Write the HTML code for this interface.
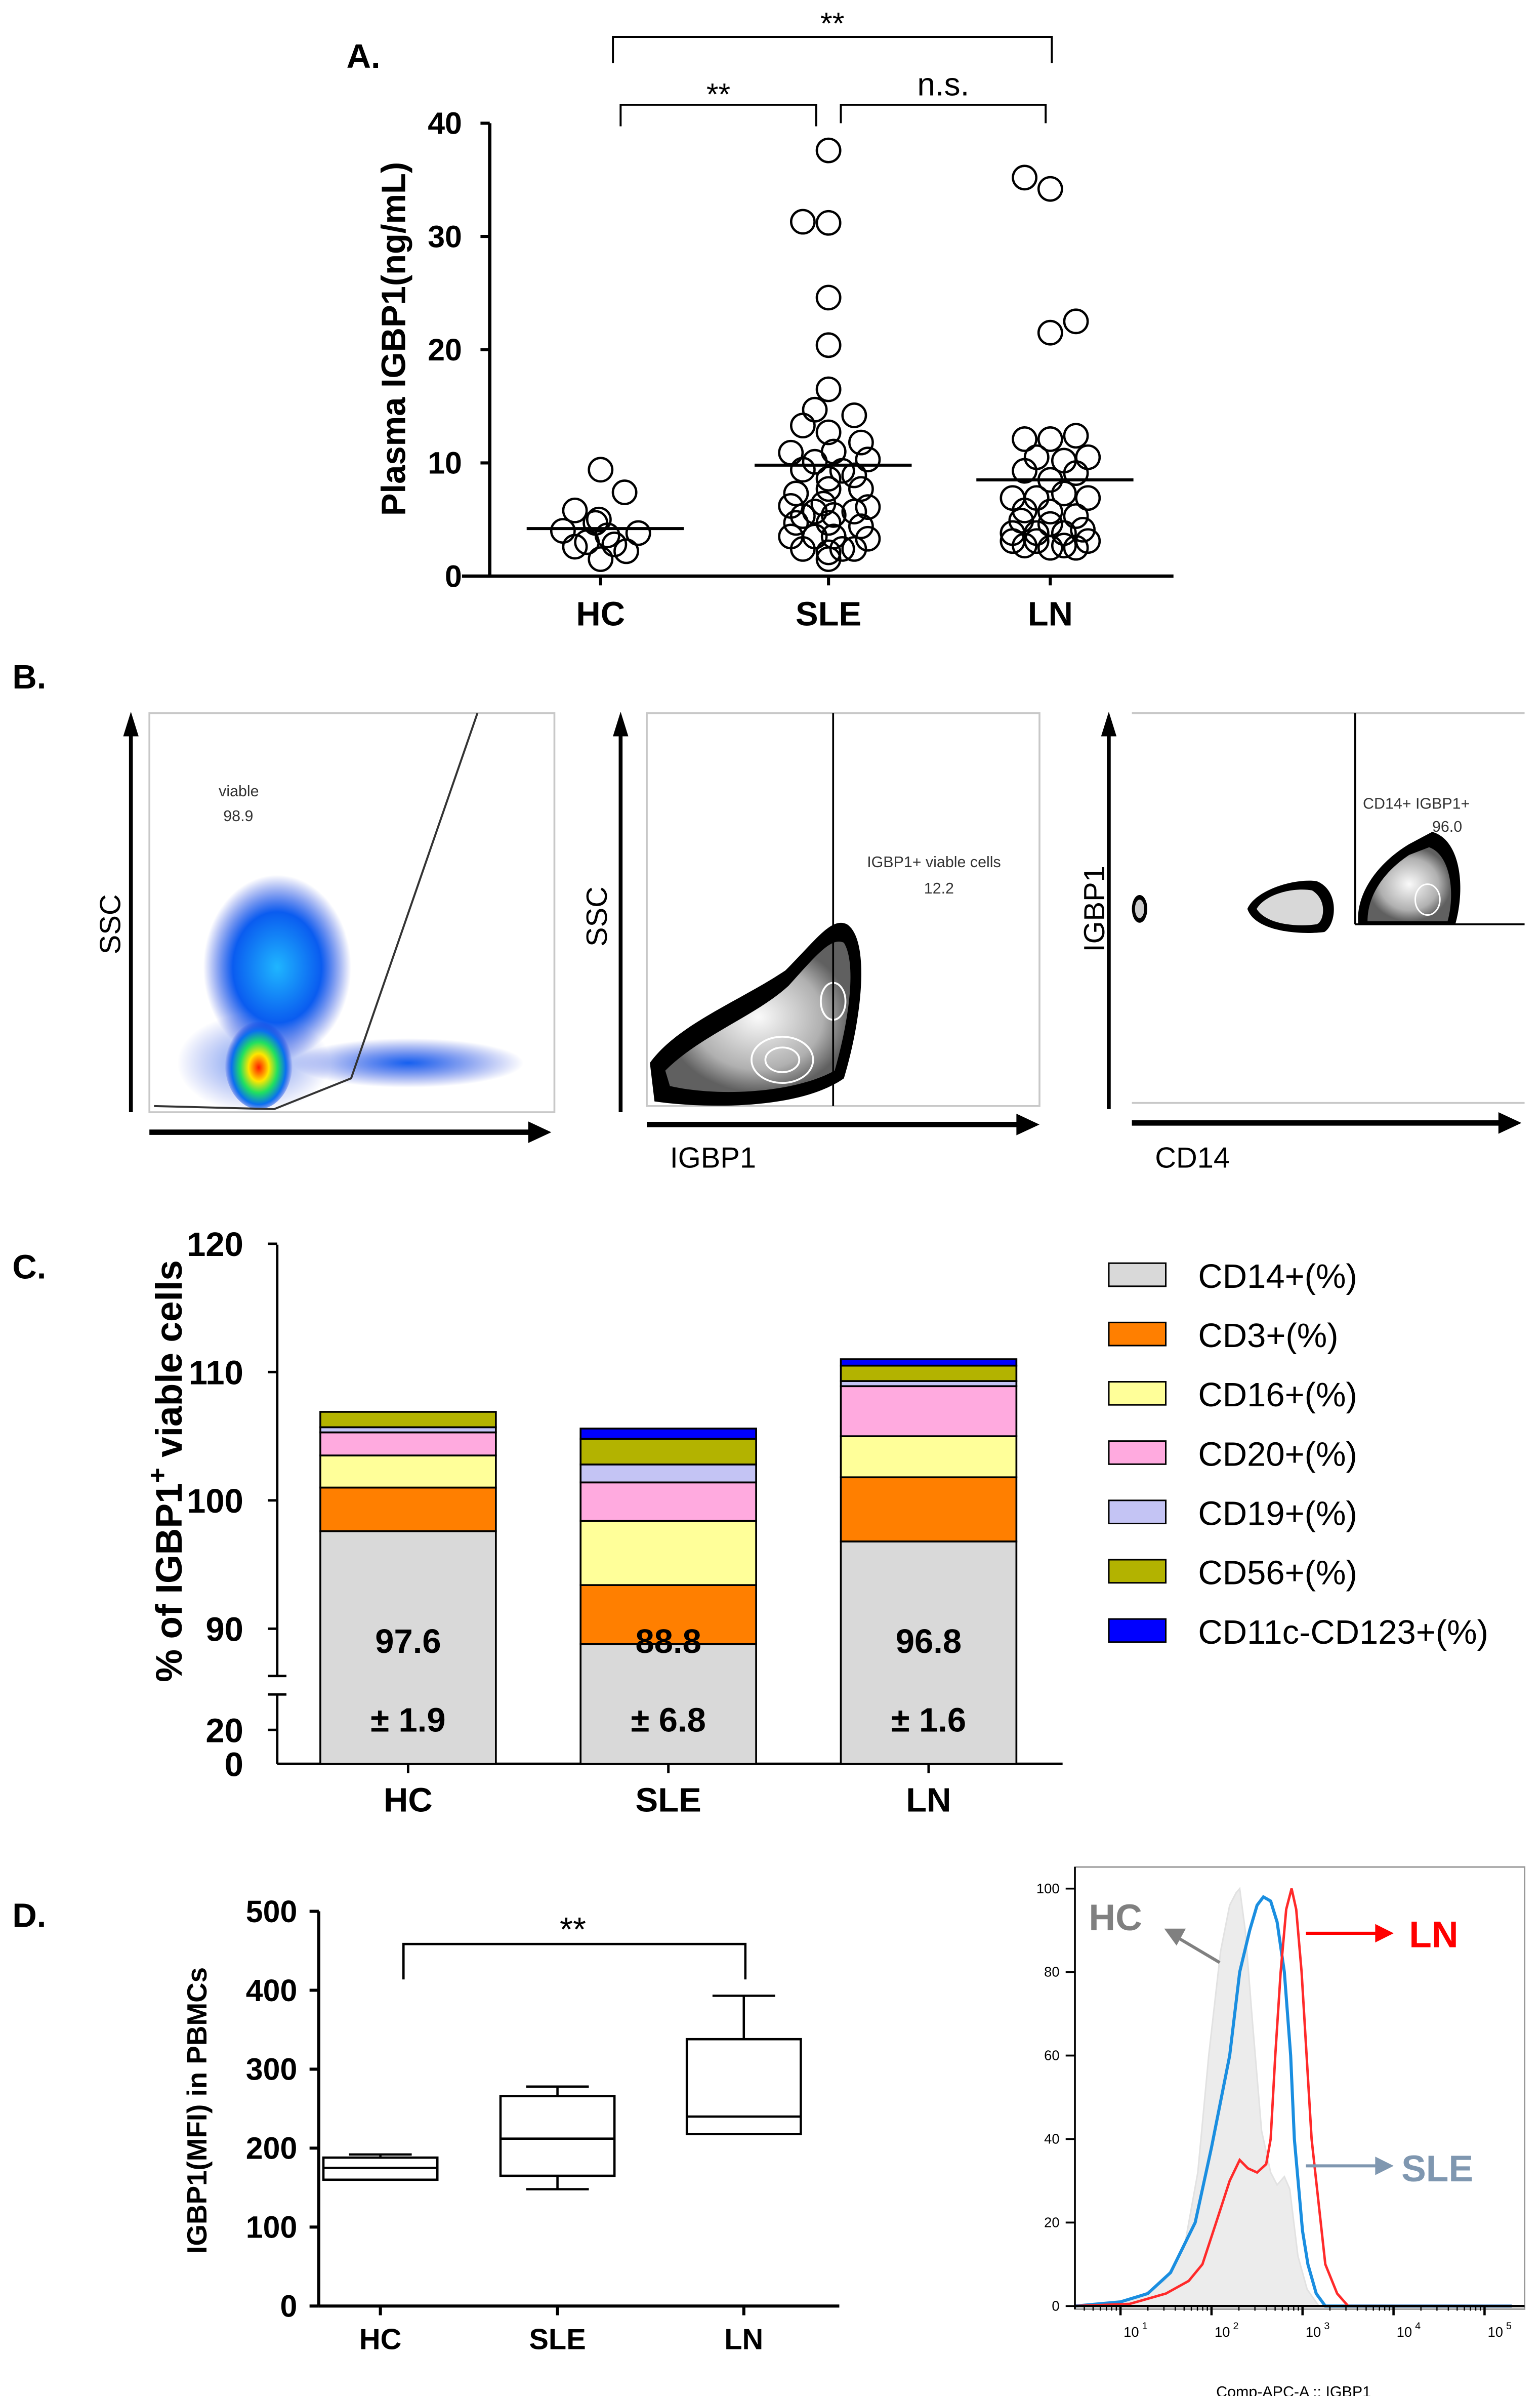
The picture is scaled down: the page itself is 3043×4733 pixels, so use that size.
<!DOCTYPE html>
<html><head><meta charset="utf-8">
<style>
html,body{margin:0;padding:0;background:#fff;}
svg{display:block;font-family:"Liberation Sans",Arial,sans-serif;}
</style></head>
<body>
<svg id="fig" xmlns="http://www.w3.org/2000/svg" width="3043" height="4733" viewBox="0 0 1000 1555.4">
<defs>
<radialGradient id="gBlue" cx="50%" cy="50%" r="50%">
<stop offset="0" stop-color="#1fb6ff"/><stop offset="0.6" stop-color="#0a5cf0"/><stop offset="1" stop-color="#0a2bd8" stop-opacity="0"/>
</radialGradient>
<radialGradient id="gHot" cx="50%" cy="55%" r="50%">
<stop offset="0" stop-color="#ff1a00"/><stop offset="0.3" stop-color="#ffe600"/><stop offset="0.55" stop-color="#20e060"/><stop offset="0.8" stop-color="#0a70f0"/><stop offset="1" stop-color="#0a2bd8" stop-opacity="0"/>
</radialGradient>
<radialGradient id="gSide" cx="50%" cy="50%" r="50%">
<stop offset="0" stop-color="#1560f0"/><stop offset="1" stop-color="#0a2bd8" stop-opacity="0"/>
</radialGradient>
<radialGradient id="gGray" cx="50%" cy="50%" r="50%">
<stop offset="0" stop-color="#fafafa"/><stop offset="0.7" stop-color="#b0b0b0"/><stop offset="1" stop-color="#606060"/>
</radialGradient>
</defs>

<!-- ================= PANEL A ================= -->
<g id="panelA">
<text x="225" y="44" font-size="22" font-weight="bold">A.</text>
<text transform="translate(263,220) rotate(-90)" text-anchor="middle" font-size="22" font-weight="bold">Plasma IGBP1(ng/mL)</text>
<g id="aAxes"></g>
<g id="aPts"></g>
</g>

<!-- ================= PANEL B ================= -->
<g id="panelB">
<text x="8" y="447" font-size="22" font-weight="bold">B.</text>
<g>
<rect x="97" y="463" width="263" height="259" fill="none" stroke="#c8c8c8" stroke-width="1.2"/>
<ellipse cx="165" cy="690" rx="50" ry="32" fill="url(#gSide)" opacity="0.6"/>
<ellipse cx="180" cy="628" rx="48" ry="60" fill="url(#gBlue)"/>
<ellipse cx="265" cy="690" rx="75" ry="16" fill="url(#gSide)"/>
<ellipse cx="168" cy="690" rx="22" ry="30" fill="url(#gHot)"/>
<path d="M100,718 L178,720 L228,700 L310,463" fill="none" stroke="#333" stroke-width="1.3"/>
<text x="142" y="517" font-size="10" fill="#333">viable</text>
<text x="145" y="533" font-size="10" fill="#333">98.9</text>
<line x1="85" y1="722" x2="85" y2="475" stroke="#000" stroke-width="2.5"/>
<polygon points="80,478 85,462 90,478" fill="#000"/>
<line x1="97" y1="735" x2="345" y2="735" stroke="#000" stroke-width="3.5"/>
<polygon points="343,728 358,735 343,742" fill="#000"/>
<text transform="translate(78,600) rotate(-90)" text-anchor="middle" font-size="19">SSC</text>
</g>
<g>
<rect x="420" y="463" width="255" height="255" fill="none" stroke="#c8c8c8" stroke-width="1.2"/>
<path d="M422,690 C440,665 480,650 510,630 C530,610 540,595 550,600 C565,610 560,660 548,700 C520,720 460,720 425,715 Z" fill="#000"/>
<path d="M432,695 C455,672 490,660 512,640 C530,620 540,608 548,612 C556,625 552,660 542,695 C515,710 465,712 435,705 Z" fill="url(#gGray)"/>
<ellipse cx="508" cy="688" rx="20" ry="15" fill="none" stroke="#fff" stroke-width="1.2"/>
<ellipse cx="508" cy="688" rx="11" ry="8" fill="none" stroke="#fff" stroke-width="1.2"/>
<ellipse cx="541" cy="650" rx="8" ry="12" fill="none" stroke="#fff" stroke-width="1.2"/>
<line x1="541" y1="463" x2="541" y2="718" stroke="#000" stroke-width="1.2"/>
<text x="563" y="563" font-size="10" fill="#333">IGBP1+ viable cells</text>
<text x="600" y="580" font-size="10" fill="#333">12.2</text>
<line x1="403" y1="722" x2="403" y2="475" stroke="#000" stroke-width="2.5"/>
<polygon points="398,478 403,462 408,478" fill="#000"/>
<line x1="420" y1="730" x2="662" y2="730" stroke="#000" stroke-width="3.5"/>
<polygon points="660,723 675,730 660,737" fill="#000"/>
<text transform="translate(394,595) rotate(-90)" text-anchor="middle" font-size="19">SSC</text>
<text x="435" y="758" font-size="19">IGBP1</text>
</g>
<g>
<line x1="735" y1="463" x2="990" y2="463" stroke="#c8c8c8" stroke-width="1.2"/>
<line x1="735" y1="716" x2="990" y2="716" stroke="#c8c8c8" stroke-width="1.2"/>
<ellipse cx="740" cy="590" rx="5" ry="9" fill="#000"/>
<ellipse cx="740" cy="590" rx="3" ry="6" fill="#ccc"/>
<path d="M810,590 C815,578 840,570 855,572 C870,578 868,600 860,605 C845,607 815,605 810,590 Z" fill="#000"/>
<path d="M816,590 C822,580 840,576 852,578 C862,584 860,598 855,600 C842,602 822,600 816,590 Z" fill="#d8d8d8"/>
<path d="M882,600 C880,580 895,560 915,548 L930,540 C948,545 952,575 945,600 Z" fill="#000"/>
<path d="M888,598 C888,580 900,565 915,555 L928,550 C942,555 945,580 940,598 Z" fill="url(#gGray)"/>
<ellipse cx="927" cy="584" rx="8" ry="10" fill="none" stroke="#fff" stroke-width="1"/>
<line x1="880" y1="463" x2="880" y2="600" stroke="#000" stroke-width="1.2"/>
<line x1="880" y1="600" x2="990" y2="600" stroke="#000" stroke-width="1.2"/>
<text x="885" y="525" font-size="10" fill="#333">CD14+ IGBP1+</text>
<text x="930" y="540" font-size="10" fill="#333">96.0</text>
<line x1="720" y1="720" x2="720" y2="475" stroke="#000" stroke-width="2.5"/>
<polygon points="715,478 720,462 725,478" fill="#000"/>
<line x1="735" y1="729" x2="975" y2="729" stroke="#000" stroke-width="3.5"/>
<polygon points="973,722 988,729 973,736" fill="#000"/>
<text transform="translate(717,590) rotate(-90)" text-anchor="middle" font-size="19">IGBP1</text>
<text x="750" y="758" font-size="19">CD14</text>
</g>
</g>

<!-- ================= PANEL C ================= -->
<g id="panelC">
<text x="8" y="830" font-size="22" font-weight="bold">C.</text>
<text transform="translate(118,955) rotate(-90)" text-anchor="middle" font-size="24" font-weight="bold">% of IGBP1<tspan dy="-10" font-size="17">+</tspan><tspan dy="10">   viable cells</tspan></text>
<g id="cAxes"></g>
<g id="cBars"></g>
<g id="cLegend"></g>
</g>

<!-- ================= PANEL D ================= -->
<g id="panelD">
<text x="8" y="1251" font-size="22" font-weight="bold">D.</text>
<text transform="translate(134,1370) rotate(-90)" text-anchor="middle" font-size="18" font-weight="bold">IGBP1(MFI) in PBMCs</text>
<g id="dBox"></g>
<g id="dHist"></g>
</g>
</svg>

<script>
// ---------- Panel A data ----------
const aCats = ['HC','SLE','LN'];
const aMeans = [4.2, 9.8, 8.5];
const aTicks = [0,10,20,30,40];
// points: [jitter offset in units of marker diameter, value]
const aHC = [[0,9.4],[1.4,7.4],[-1.5,5.8],[-0.1,5.0],[-0.3,4.7],[-2.2,4.0],[2.2,3.8],[0.4,3.6],[-0.8,3.0],[-1.5,2.6],[0.8,2.8],[1.5,2.2],[0,1.5]];
const aSLE = [[0,37.6],[-1.5,31.3],[0,31.2],[0,24.6],[0,20.4],[0,16.5],[-0.8,14.7],[1.5,14.2],[-1.5,13.3],[0,12.7],[1.9,11.8],[-2.2,10.9],[0.3,11.0],[2.3,10.3],[-0.8,10.1],[-1.5,9.4],[0.8,9.3],[0,8.6],[1.5,8.9],[-1.9,7.3],[0,7.7],[1.9,7.7],[-2.2,6.2],[-0.3,6.4],[2.3,6.1],[-1.5,5.3],[-0.8,5.7],[0.3,5.4],[1.5,5.7],[-1.9,4.7],[1.9,4.4],[0,4.7],[-2.2,3.5],[-0.8,3.5],[0.3,3.5],[2.3,3.3],[-1.5,2.4],[0,2.1],[0.8,2.4],[1.5,2.4],[0,1.5]];
const aLN = [[-1.5,35.2],[0,34.2],[1.5,22.5],[0,21.5],[-1.5,12.1],[0,12.1],[1.5,12.4],[-0.8,10.5],[0.8,10.2],[2.2,10.5],[-1.5,9.3],[1.5,9.1],[0,8.5],[-2.2,6.9],[-0.8,6.9],[0.8,7.3],[2.2,6.9],[-1.5,5.8],[0,5.7],[1.5,5.3],[-1.7,4.9],[0,4.6],[-2.2,3.8],[-0.8,3.8],[0.8,3.8],[1.9,4.1],[-2.2,3.1],[-1.5,2.7],[-0.8,3.1],[0,2.5],[0.8,2.7],[1.5,2.5],[2.2,3.1]];
const aSeries = [aHC, aSLE, aLN];

// ---------- Panel C data ----------
const cCats = ['HC','SLE','LN'];
const cMarkers = ['CD14+(%)','CD3+(%)','CD16+(%)','CD20+(%)','CD19+(%)','CD56+(%)','CD11c-CD123+(%)'];
const cColors = ['#d9d9d9','#ff7f00','#ffff99','#ffaadf','#c4c4f4','#b3b300','#0000ff'];
const cHC = [97.6, 3.4, 2.5, 1.8, 0.4, 1.2, 0];
const cSLE = [88.8, 4.6, 5.0, 3.0, 1.4, 2.0, 0.8];
const cLN = [96.8, 5.0, 3.2, 3.9, 0.4, 1.2, 0.5];
const cLabels = [['97.6','± 1.9'],['88.8','± 6.8'],['96.8','± 1.6']];
const cTicks = [90,100,110,120];

// ---------- Panel D box data ----------
const dCats = ['HC','SLE','LN'];
const dMin = [160,148,218];
const dQ1 = [160,165,218];
const dMed = [175,212,240];
const dQ3 = [188,266,338];
const dMax = [192,278,393];
const dTicks = [0,100,200,300,400,500];

// ---------- Panel D histogram data (x = log10 intensity, y = % of max) ----------
const hHCx = [0.47,0.9,1.2,1.48,1.7,1.85,1.97,2.1,2.2,2.27,2.31,2.37,2.45,2.55,2.65,2.72,2.8,2.86,2.95,3.05,3.18,5.3];
const hHCy = [0,0.5,2,6,14,32,60,85,96,99,100,90,68,42,32,29,31,28,12,4,0,0];
const hSLEx = [0.47,1.0,1.3,1.55,1.82,2.0,2.2,2.31,2.42,2.5,2.57,2.65,2.72,2.8,2.87,2.91,3.0,3.06,3.15,3.25,5.3];
const hSLEy = [0,1,3,8,20,38,60,80,90,96,98,97,92,80,60,40,18,10,3,0,0];
const hLNx = [0.47,1.1,1.5,1.75,1.9,2.05,2.2,2.31,2.4,2.5,2.6,2.65,2.7,2.76,2.82,2.88,2.93,2.99,3.1,3.25,3.38,3.5,5.3];
const hLNy = [0,0.5,3,6,10,20,30,35,33,32,34,40,60,80,95,100,95,80,40,10,3,0,0];
const hTicks = [0,20,40,60,80,100];
const hDecades = [1,2,3,4,5];

const NS='http://www.w3.org/2000/svg';
function mk(tag, attrs, parent, txt){
  const e=document.createElementNS(NS,tag);
  for(const k in attrs) e.setAttribute(k,attrs[k]);
  if(txt!==undefined) e.textContent=txt;
  parent.appendChild(e); return e;
}

// ===== Panel A =====
(function(){
  const ax=document.getElementById('aAxes'), pg=document.getElementById('aPts');
  const y=v=>374-(v/40)*294;
  const cx=[390,538,682];
  const R=7.6;
  const yAxis = mk('line',{x1:318,y1:y(40),x2:318,y2:y(0),stroke:'#000','stroke-width':2.2},ax);
  
  
  const xAxis = mk('line',{x1:300,y1:374,x2:762,y2:374,stroke:'#000','stroke-width':2.2},ax);
  
  
  aTicks.forEach(t=>{
    mk('line',{x1:312,y1:y(t),x2:318,y2:y(t),stroke:'#000','stroke-width':2},ax);
    const tl = mk('text',{x:300,y:y(t)+7,'text-anchor':'end','font-size':20,'font-weight':'bold'},ax,String(t));
    
    
  });
  aCats.forEach((c,i)=>{
    mk('line',{x1:cx[i],y1:374,x2:cx[i],y2:380,stroke:'#000','stroke-width':2},ax);
    const cl = mk('text',{x:cx[i],y:406,'text-anchor':'middle','font-size':22,'font-weight':'bold'},ax,c);
    
    
    aSeries[i].forEach(p=>{
      const c2 = mk('circle',{cx:cx[i]+p[0]*R*1.95*0.75,cy:y(p[1]),r:R,fill:'#fff','fill-opacity':0,stroke:'#000','stroke-width':1.5},pg);
      
      
    });
    const ml = mk('line',{x1:cx[i]-48,y1:y(aMeans[i]),x2:cx[i]+54,y2:y(aMeans[i]),stroke:'#000','stroke-width':2},pg);
    
    
  });
  const br=(x1,x2,yTop,yBot,label,ly)=>{
    const p = mk('path',{d:`M${x1},${yBot} L${x1},${yTop} L${x2},${yTop} L${x2},${yBot}`,fill:'none',stroke:'#000','stroke-width':1.3},ax);
    
    
    const t = mk('text',{x:(x1+x2)/2,y:ly,'text-anchor':'middle','font-size':label==='n.s.'?21:20},ax,label);
    
    
  };
  br(398,683,24,41,'**',22);
  br(403,530,68,82,'**',68);
  br(546,679,68,80,'n.s.',62);
})();

// ===== Panel C =====
(function(){
  const ax=document.getElementById('cAxes'), bg=document.getElementById('cBars'), lg=document.getElementById('cLegend');
  const y=v=>974-(v-100)*8.33;
  const base=1145;
  const yA = mk('path',{d:`M180,808 L180,1088 M180,1100 L180,1145`,stroke:'#000','stroke-width':1.6,fill:'none'},ax);
  
  
  mk('path',{d:'M174,1088 L186,1088 M174,1100 L186,1100',stroke:'#000','stroke-width':1.6},ax);
  const xA = mk('line',{x1:180,y1:base,x2:690,y2:base,stroke:'#000','stroke-width':1.6},ax);
  
  
  cTicks.forEach(t=>{
    mk('line',{x1:174,y1:y(t),x2:180,y2:y(t),stroke:'#000','stroke-width':1.6},ax);
    const tl = mk('text',{x:158,y:y(t)+8,'text-anchor':'end','font-size':22,'font-weight':'bold'},ax,String(t));
    
    
  });
  mk('line',{x1:174,y1:1123,x2:180,y2:1123,stroke:'#000','stroke-width':1.6},ax);
  mk('text',{x:158,y:1131,'text-anchor':'end','font-size':22,'font-weight':'bold'},ax,'20');
  mk('text',{x:158,y:1153,'text-anchor':'end','font-size':22,'font-weight':'bold'},ax,'0');
  const data=[cHC,cSLE,cLN];
  const bx=[208,377,546], bw=114;
  data.forEach((d,i)=>{
    let cum=0;
    d.forEach((v,k)=>{
      const top=y(cum+v), bot=(k===0)?base:y(cum);
      cum+=v;
      if(v<=0) return;
      const r = mk('rect',{x:bx[i],y:top,width:bw,height:bot-top,fill:cColors[k],stroke:'#000','stroke-width':1.2},bg);
      
      
    });
    const cx=bx[i]+bw/2;
    mk('text',{x:cx,y:1073,'text-anchor':'middle','font-size':22,'font-weight':'bold'},bg,cLabels[i][0]);
    mk('text',{x:cx,y:1124,'text-anchor':'middle','font-size':22,'font-weight':'bold'},bg,cLabels[i][1]);
    mk('line',{x1:cx,y1:base,x2:cx,y2:base+6,stroke:'#000','stroke-width':1.6},ax);
    const cl = mk('text',{x:cx,y:1176,'text-anchor':'middle','font-size':22,'font-weight':'bold'},ax,cCats[i]);
    
    
  });
  cMarkers.forEach((m,k)=>{
    const yy=828+k*38.5;
    const sw = mk('rect',{x:720,y:yy-8,width:37,height:15,fill:cColors[k],stroke:'#000','stroke-width':1},lg);
    
    
    const t = mk('text',{x:778,y:yy+8,'font-size':22},lg,m);
    
    
  });
})();

// ===== Panel D boxplot =====
(function(){
  const g=document.getElementById('dBox');
  const y=v=>1497-v*0.5125;
  const cx=[247,362,483], hw=37;
  const yA = mk('line',{x1:207,y1:y(500),x2:207,y2:1497,stroke:'#000','stroke-width':2},g);
  
  
  const xA = mk('line',{x1:207,y1:1497,x2:545,y2:1497,stroke:'#000','stroke-width':2},g);
  
  
  dTicks.forEach(t=>{
    mk('line',{x1:201,y1:y(t),x2:207,y2:y(t),stroke:'#000','stroke-width':2},g);
    const tl = mk('text',{x:193,y:y(t)+7,'text-anchor':'end','font-size':20,'font-weight':'bold'},g,String(t));
    
    
  });
  dCats.forEach((c,i)=>{
    const x=cx[i];
    mk('line',{x1:x,y1:1497,x2:x,y2:1503,stroke:'#000','stroke-width':2},g);
    const cl = mk('text',{x:x,y:1525,'text-anchor':'middle','font-size':19,'font-weight':'bold'},g,c);
    
    
    mk('line',{x1:x,y1:y(dMax[i]),x2:x,y2:y(dQ3[i]),stroke:'#000','stroke-width':1.5},g);
    mk('line',{x1:x,y1:y(dQ1[i]),x2:x,y2:y(dMin[i]),stroke:'#000','stroke-width':1.5},g);
    mk('line',{x1:x-hw*0.55,y1:y(dMax[i]),x2:x+hw*0.55,y2:y(dMax[i]),stroke:'#000','stroke-width':1.5},g);
    mk('line',{x1:x-hw*0.55,y1:y(dMin[i]),x2:x+hw*0.55,y2:y(dMin[i]),stroke:'#000','stroke-width':1.5},g);
    const b = mk('rect',{x:x-hw,y:y(dQ3[i]),width:hw*2,height:y(dQ1[i])-y(dQ3[i]),fill:'#fff',stroke:'#000','stroke-width':1.5},g);
    
    
    mk('line',{x1:x-hw,y1:y(dMed[i]),x2:x+hw,y2:y(dMed[i]),stroke:'#000','stroke-width':1.5},g);
  });
  const br = mk('path',{d:'M262,1285 L262,1262 L484,1262 L484,1285',fill:'none',stroke:'#000','stroke-width':1.5},g);
  
  
  mk('text',{x:372,y:1260,'text-anchor':'middle','font-size':22},g,'**');
})();

// ===== Panel D histogram =====
(function(){
  const g=document.getElementById('dHist');
  const X=l=>668.5+59.1*l;
  const Y=v=>1497-v*2.71;
  const fr = mk('rect',{x:698,y:1212,width:292,height:287,fill:'none',stroke:'#999','stroke-width':1},g);
  
  
  const pathOf=(xs,ys)=>xs.map((v,i)=>(i?'L':'M')+Math.max(698,X(v)).toFixed(1)+','+Y(ys[i]).toFixed(1)).join(' ');
  const hc = mk('path',{d:pathOf(hHCx,hHCy)+` L${X(5.3)},${Y(0)} L${Math.max(698,X(0.47))},${Y(0)} Z`,fill:'#ececec',stroke:'#e2e2e2','stroke-width':1},g);
  
  
  const sl = mk('path',{d:pathOf(hSLEx,hSLEy),fill:'none',stroke:'#1a8ee0','stroke-width':2},g);
  
  
  const ln = mk('path',{d:pathOf(hLNx,hLNy),fill:'none',stroke:'#ff2a2a','stroke-width':1.6},g);
  
  
  mk('line',{x1:698,y1:Y(0),x2:990,y2:Y(0),stroke:'#000','stroke-width':1.5},g);
  mk('line',{x1:698,y1:1212,x2:698,y2:1499,stroke:'#000','stroke-width':1.2},g);
  hTicks.forEach(t=>{
    mk('line',{x1:692,y1:Y(t),x2:698,y2:Y(t),stroke:'#000','stroke-width':1.2},g);
    const tl = mk('text',{x:688,y:Y(t)+3,'text-anchor':'end','font-size':9},g,String(t));
    
    
  });
  hDecades.forEach(d=>{
    mk('line',{x1:X(d),y1:Y(0),x2:X(d),y2:Y(0)+6,stroke:'#000','stroke-width':1.5},g);
    for(let m=2;m<10;m++){
      const xm=X(d-1+Math.log10(m));
      if(xm>698) mk('line',{x1:xm,y1:Y(0),x2:xm,y2:Y(0)+3,stroke:'#000','stroke-width':0.8},g);
    }
    const t=mk('text',{x:X(d)+7,y:Y(0)+20,'text-anchor':'middle','font-size':9},g,'10');
    
    
    mk('text',{x:X(d)+14,y:Y(0)+15,'font-size':6.5},g,String(d));
  });
  mk('text',{x:840,y:1556,'text-anchor':'middle','font-size':10},g,'Comp-APC-A :: IGBP1');
  mk('text',{x:707,y:1253,'font-size':24,'font-weight':'bold',fill:'#808080'},g,'HC');
  mk('line',{x1:792,y1:1274,x2:765,y2:1258,stroke:'#808080','stroke-width':2},g);
  mk('polygon',{points:'756,1252 770,1252 764,1263',fill:'#808080'},g);
  mk('text',{x:915,y:1264,'font-size':24,'font-weight':'bold',fill:'#ff0000'},g,'LN');
  mk('line',{x1:848,y1:1255,x2:895,y2:1255,stroke:'#ff0000','stroke-width':2},g);
  mk('polygon',{points:'893,1249 905,1255 893,1261',fill:'#ff0000'},g);
  mk('text',{x:910,y:1416,'font-size':24,'font-weight':'bold',fill:'#7f97b0'},g,'SLE');
  mk('line',{x1:848,y1:1406,x2:895,y2:1406,stroke:'#7f97b0','stroke-width':2},g);
  mk('polygon',{points:'893,1400 905,1406 893,1412',fill:'#7f97b0'},g);
})();
</script>
</body></html>
